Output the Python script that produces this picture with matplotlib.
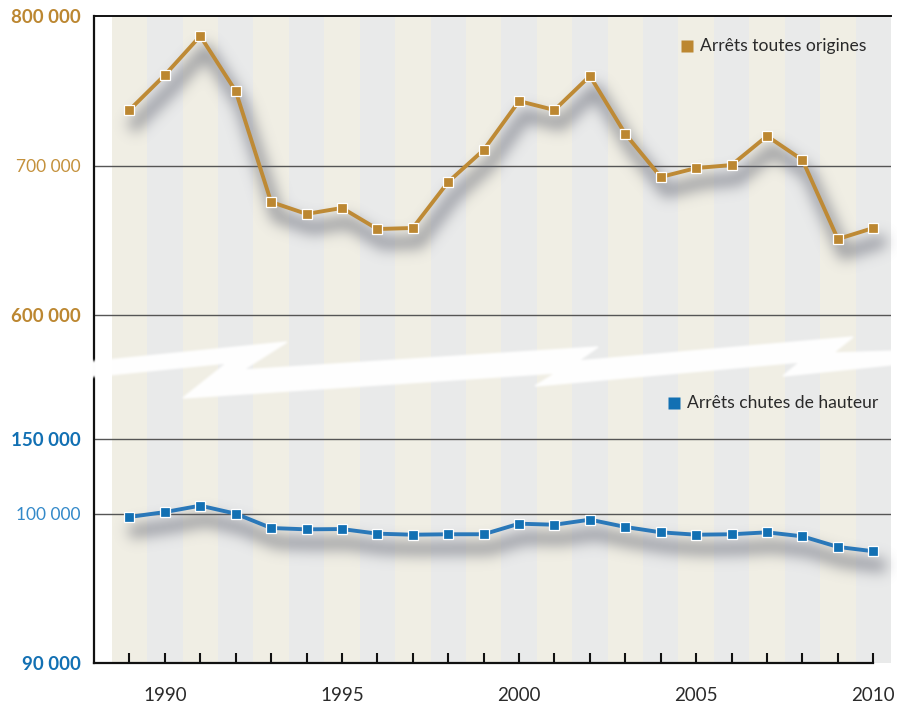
import numpy as np
import matplotlib
matplotlib.use("Agg")
import matplotlib.pyplot as plt
from matplotlib.patches import Polygon
from matplotlib.lines import Line2D

# ---- data -------------------------------------------------------------
years = list(range(1989, 2011))
arrets_toutes_origines = [737100, 760500, 786600, 749800, 675600, 667600,
                          671600, 657500, 658200, 689000, 710400, 743100,
                          737100, 759900, 721100, 692300, 698300, 700300,
                          719700, 703700, 650800, 658200]
arrets_chutes_hauteur = [99800, 100130, 100560, 100020, 99060, 98970,
                         98990, 98680, 98610, 98640, 98640, 99350,
                         99280, 99620, 99130, 98770, 98610, 98640,
                         98770, 98500, 97790, 97500]

y_ticks = [90000, 100000, 150000, 600000, 700000, 800000]
y_tick_labels = ["90 000", "100 000", "150 000", "600 000", "700 000", "800 000"]
x_label_years = [1990, 1995, 2000, 2005, 2010]

serie_labels = ["Arrêts toutes origines", "Arrêts chutes de hauteur"]

# ---- style ------------------------------------------------------------
GOLD = "#BC8731"
GOLD_LIGHT = "#C4913C"
BLUE = "#1270B3"
BLUE_LIGHT = "#3389C9"
BEIGE = "#F0EEE4"
GREY = "#E9EAEA"
FONT = ["Lato", "DejaVu Sans"]
plt.rcParams["font.family"] = FONT

W, H = 897, 705
fig = plt.figure(figsize=(W / 100, H / 100), dpi=100)
ax = fig.add_axes([94 / W, 1 - 663 / H, (891 - 94) / W, (663 - 16) / H])

# broken value axis: piecewise-linear scale between the tick levels
v_knots = np.array([-1e7, 90000, 100000, 102000, 150000, 600000, 800000, 1e8])
h_knots = np.array([-1490 * 97, 0, 149, 178.8, 224, 348, 647, 647 + 149.5 * 9.2 * 100])


def fwd(v):
    return np.interp(v, v_knots, h_knots)


def inv(h):
    return np.interp(h, h_knots, v_knots)


ax.set_yscale("function", functions=(fwd, inv))
ax.set_ylim(90000, 800000)
ax.set_xlim(1988, 2010.5)


# ---- soft blur filters (agg) --------------------------------------------
def _blur(a, sigma):
    r = int(3 * sigma)
    x = np.arange(-r, r + 1)
    k = np.exp(-0.5 * (x / sigma) ** 2)
    k /= k.sum()
    a = np.apply_along_axis(lambda m: np.convolve(m, k, mode="same"), 0, a)
    a = np.apply_along_axis(lambda m: np.convolve(m, k, mode="same"), 1, a)
    return a


class Shadow:
    def __init__(self, sigma, dx, dy, color, alpha):
        self.sigma, self.dx, self.dy = sigma, dx, dy
        self.color, self.alpha = color, alpha

    def __call__(self, im, dpi):
        pad = int(3 * self.sigma + max(self.dx, self.dy)) + 2
        src = np.pad(im, [(pad, pad), (pad, pad), (0, 0)], "constant")
        a = src[:, :, 3]
        a = np.roll(a, self.dx, axis=1)
        a = np.roll(a, self.dy, axis=0)
        a = _blur(a, self.sigma) * self.alpha
        out = np.empty_like(src)
        out[:, :, :3] = self.color
        out[:, :, 3] = np.clip(a, 0, 1)
        return out, -pad, -pad


# ---- background stripes -----------------------------------------------
for i, yr in enumerate(years):
    ax.axvspan(yr - 0.5, yr + 0.5, color=BEIGE if i % 2 == 0 else GREY,
               lw=0, zorder=0)

for yv in [100000, 150000, 600000, 700000]:
    ax.axhline(yv, color="#555555", lw=1.0, zorder=1)

# ---- series -----------------------------------------------------------
for vals, col, lcol in [(arrets_toutes_origines, GOLD, "#BE8A35"),
                        (arrets_chutes_hauteur, BLUE, "#2A78B9")]:
    sh, = ax.plot(years, vals, color="k", lw=9, zorder=2)
    sh.set_agg_filter(Shadow(7, 6, 14, (0.38, 0.39, 0.44), 0.62))
    sh.set_rasterized(True)
    ax.plot(years, vals, color=lcol, lw=2.8, zorder=3, solid_joinstyle="round")
    ax.plot(years, vals, ls="none", marker="s", ms=7.2, mfc=col,
            mec="white", mew=0.9, zorder=4)

# ---- axes ---------------------------------------------------------------
ax.spines["right"].set_visible(False)
for s, lw in [("top", 1.4), ("left", 1.6), ("bottom", 1.6)]:
    ax.spines[s].set_color("#111111")
    ax.spines[s].set_linewidth(lw)
ax.spines["bottom"].set_bounds(1988, 2010)

ax.set_xticks(years)
ax.set_xticklabels([str(y) if y in x_label_years else "" for y in years])
ax.tick_params(axis="x", direction="in", length=7.5, width=1.5,
               color="#111111", pad=17, labelsize=13.5, labelcolor="#2b2b2b")

ax.set_yticks(y_ticks)
ax.set_yticklabels(y_tick_labels)
ax.tick_params(axis="y", length=0, pad=9.5, labelsize=12.5)
label_style = {
    "90 000": (BLUE, "bold", 13.5), "100 000": (BLUE_LIGHT, "normal", 12.5),
    "150 000": (BLUE, "bold", 13.5), "600 000": (GOLD, "bold", 13.5),
    "700 000": (GOLD_LIGHT, "normal", 12.5), "800 000": (GOLD, "bold", 13.5),
}
for lab in ax.get_yticklabels():
    c, w, fs = label_style[lab.get_text()]
    lab.set_color(c)
    lab.set_fontweight(w)
    lab.set_fontsize(fs)


# ---- legend entries -------------------------------------------------------
def px(x, y):
    return x / W, 1 - y / H


for (sx, sy, tx), col, text in [((687, 46, 700), GOLD, serie_labels[0]),
                                ((674, 403, 687), BLUE, serie_labels[1])]:
    fig.add_artist(Line2D([px(sx, sy)[0]], [px(sx, sy)[1]], marker="s",
                          ms=8.2, mfc=col, mec="none", ls="none",
                          transform=fig.transFigure, zorder=5))
    fig.text(*px(tx, sy), text, ha="left", va="center", fontsize=12.6,
             color="#2a2a2a", zorder=5)

# ---- axis break: white lightning band ------------------------------------
band = [(88, 362), (287, 342), (243, 370), (598, 347), (578, 361),
        (853, 337), (833, 353), (899, 351),
        (899, 364), (783, 376), (800, 362), (535, 386), (556, 373),
        (183, 398), (227, 363), (88, 377)]
brk = Polygon([px(x, y) for x, y in band], closed=True,
              transform=fig.transFigure, facecolor="white",
              edgecolor="white", lw=1.0, zorder=4)
brk.set_agg_filter(Shadow(1.2, 0, 0, (1.0, 1.0, 1.0), 1.0))
brk.set_rasterized(True)
fig.add_artist(brk)

fig.savefig("out.png", dpi=100)
